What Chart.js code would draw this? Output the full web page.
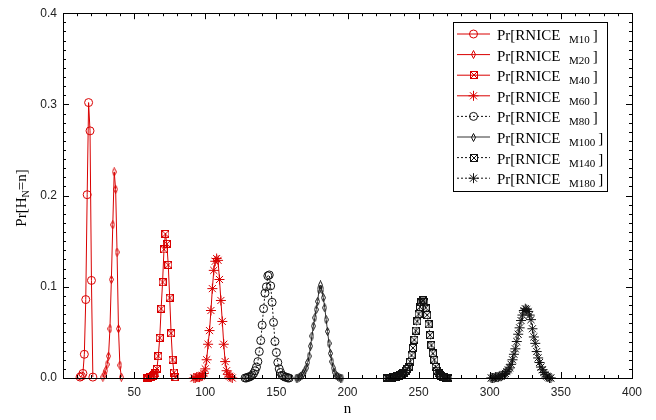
<!DOCTYPE html>
<html lang="en">
<head>
  <meta charset="UTF-8" />
  <title>Pr[H_N=n]</title>
  <script src="https://cdn.jsdelivr.net/npm/chart.js"></script>
  <style>
    html, body { margin: 0; padding: 0; background: #fff; }
    #wrap { width: 656px; height: 420px; }
  </style>
</head>
<body>
  <div id="wrap"><canvas id="chart"></canvas></div>

  <script>
    // series names (subscripts in the legend)
    const seriesNames = ['M10', 'M20', 'M40', 'M60', 'M80', 'M100', 'M140', 'M180'];
    // first n of each series, then one probability per consecutive n
    const startN = [12, 28, 59, 92, 128, 164, 228, 301];

    const probM10 = [0.001, 0.002, 0.005, 0.026, 0.086, 0.201, 0.302, 0.271, 0.107, 0.001];
    const probM20 = [0.001, 0.004, 0.008, 0.015, 0.024, 0.054, 0.108, 0.168, 0.226, 0.207, 0.138, 0.054, 0.014, 0.001];
    const probM40 = [0.000, 0.000, 0.001, 0.001, 0.002, 0.003, 0.005, 0.010, 0.024, 0.044, 0.076, 0.105, 0.141,
                     0.158, 0.147, 0.124, 0.088, 0.049, 0.020, 0.006, 0.001];
    const probM60 = [0.000, 0.000, 0.001, 0.001, 0.001, 0.002, 0.003, 0.005, 0.010, 0.020, 0.037, 0.052, 0.074,
                     0.098, 0.118, 0.128, 0.131, 0.129, 0.108, 0.085, 0.062, 0.037, 0.018, 0.008, 0.004, 0.002,
                     0.001, 0.000];
    const probM80 = [0.000, 0.000, 0.001, 0.001, 0.002, 0.003, 0.005, 0.008, 0.012, 0.018, 0.029, 0.041, 0.058,
                     0.076, 0.093, 0.100, 0.112, 0.113, 0.101, 0.083, 0.061, 0.040, 0.028, 0.017, 0.010, 0.006,
                     0.003, 0.002, 0.001, 0.001, 0.000, 0.000];
    const probM100 = [0.000, 0.000, 0.001, 0.002, 0.003, 0.005, 0.008, 0.011, 0.017, 0.024, 0.035, 0.046, 0.057,
                      0.066, 0.075, 0.084, 0.097, 0.102, 0.097, 0.088, 0.077, 0.064, 0.051, 0.038, 0.027, 0.018,
                      0.011, 0.006, 0.003, 0.002, 0.001, 0.000, 0.000];
    const probM140 = [0.000, 0.000, 0.000, 0.000, 0.001, 0.001, 0.001, 0.002, 0.002, 0.003, 0.004, 0.005, 0.006,
                      0.008, 0.010, 0.012, 0.018, 0.025, 0.033, 0.042, 0.052, 0.062, 0.070, 0.078, 0.083, 0.085,
                      0.083, 0.077, 0.069, 0.059, 0.047, 0.036, 0.027, 0.020, 0.012, 0.008, 0.005, 0.003, 0.002,
                      0.001, 0.001, 0.000, 0.000, 0.000];
    const probM180 = [0.000, 0.000, 0.000, 0.001, 0.001, 0.001, 0.002, 0.002, 0.003, 0.004, 0.005, 0.007, 0.009,
                      0.011, 0.015, 0.020, 0.026, 0.032, 0.040, 0.048, 0.055, 0.063, 0.069, 0.074, 0.076, 0.075,
                      0.073, 0.069, 0.064, 0.054, 0.045, 0.038, 0.029, 0.022, 0.017, 0.012, 0.009, 0.006, 0.004,
                      0.002, 0.001, 0.000, 0.000];

    const allProbs = [probM10, probM20, probM40, probM60, probM80, probM100, probM140, probM180];

    const xTicks = [0, 50, 100, 150, 200, 250, 300, 350, 400];
    const yTicks = [0.0, 0.1, 0.2, 0.3, 0.4];

    const RED = '#d90000';
    const BLACK = '#111';

    // little canvases for markers chart.js doesn't have
    function diamondMarker(color) {
      const c = document.createElement('canvas');
      c.width = 5; c.height = 9;
      const g = c.getContext('2d');
      g.strokeStyle = color; g.lineWidth = 1;
      g.beginPath();
      g.moveTo(2.5, 0.5); g.lineTo(4.5, 4.5); g.lineTo(2.5, 8.5); g.lineTo(0.5, 4.5); g.closePath();
      g.stroke();
      return c;
    }
    function boxXMarker(color) {
      const c = document.createElement('canvas');
      c.width = 8; c.height = 8;
      const g = c.getContext('2d');
      g.strokeStyle = color; g.lineWidth = 1;
      g.strokeRect(0.5, 0.5, 7, 7);
      g.beginPath();
      g.moveTo(0.5, 0.5); g.lineTo(7.5, 7.5);
      g.moveTo(7.5, 0.5); g.lineTo(0.5, 7.5);
      g.stroke();
      return c;
    }

    const colors = [RED, RED, RED, RED, BLACK, '#333', BLACK, BLACK];
    const dashes = [[], [], [], [], [2, 2], [], [2, 2], [2, 2]];
    const markers = [
      'circle', diamondMarker(RED), boxXMarker(RED), 'star',
      'circle', diamondMarker(BLACK), boxXMarker(BLACK), 'star'
    ];
    const radii = [4, 4, 4, 5, 4, 4, 4, 5];

    const datasets = seriesNames.map((name, i) => ({
      label: name,
      data: allProbs[i].map((p, k) => ({ x: startN[i] + k, y: p })),
      borderColor: colors[i],
      backgroundColor: 'rgba(0,0,0,0)',
      borderWidth: 1,
      borderDash: dashes[i],
      pointStyle: markers[i],
      pointRadius: radii[i],
      pointBorderWidth: 1,
      pointBorderColor: colors[i],
      pointBackgroundColor: 'rgba(0,0,0,0)',
      tension: 0,
      clip: 6
    }));

    // frame, inward ticks, legend and axis titles
    const decorations = {
      id: 'decorations',
      afterDraw(chart) {
        const ctx = chart.ctx;
        const a = chart.chartArea;
        const xs = chart.scales.x, ys = chart.scales.y;
        ctx.save();
        ctx.strokeStyle = '#000';
        ctx.lineWidth = 1;
        ctx.strokeRect(Math.round(a.left) + 0.5, Math.round(a.top) + 0.5,
                       Math.round(a.right - a.left), Math.round(a.bottom - a.top));
        ctx.beginPath();
        for (let v = 0; v <= 400; v += 10) {
          const px = Math.round(xs.getPixelForValue(v)) + 0.5;
          const len = v % 50 === 0 ? 6 : 3;
          ctx.moveTo(px, a.bottom); ctx.lineTo(px, a.bottom - len);
          ctx.moveTo(px, a.top); ctx.lineTo(px, a.top + len);
        }
        for (let k = 0; k <= 40; k++) {
          const py = Math.round(ys.getPixelForValue(k / 100)) + 0.5;
          const len = k % 10 === 0 ? 6 : 3;
          ctx.moveTo(a.left, py); ctx.lineTo(a.left + len, py);
          ctx.moveTo(a.right, py); ctx.lineTo(a.right - len, py);
        }
        ctx.stroke();

        // legend
        const bx = 453, by = 22, bw = 154, bh = 169;
        ctx.fillStyle = '#fff';
        ctx.fillRect(bx, by, bw, bh);
        ctx.strokeRect(bx + 0.5, by + 0.5, bw, bh);
        chart.data.datasets.forEach((ds, i) => {
          const ry = 34 + i * 20.6;
          ctx.strokeStyle = ds.borderColor;
          ctx.setLineDash(ds.borderDash);
          ctx.beginPath();
          ctx.moveTo(457, ry); ctx.lineTo(490, ry);
          ctx.stroke();
          ctx.setLineDash([]);
          if (typeof ds.pointStyle === 'string') {
            ctx.fillStyle = 'rgba(0,0,0,0)';
            Chart.helpers.drawPoint(ctx, { pointStyle: ds.pointStyle, radius: ds.pointRadius, rotation: 0, borderWidth: 1 }, 473.5, ry);
          } else {
            const im = ds.pointStyle;
            ctx.drawImage(im, Math.round(473.5 - im.width / 2), Math.round(ry - im.height / 2));
          }
          ctx.fillStyle = '#000';
          ctx.textAlign = 'left';
          ctx.textBaseline = 'alphabetic';
          ctx.font = '15px "Liberation Serif"';
          ctx.fillText('Pr[RNICE', 497, ry + 6);
          ctx.font = '11px "Liberation Serif"';
          ctx.fillText(ds.label, 569, ry + 9);
          const sw = ctx.measureText(ds.label).width;
          ctx.font = '15px "Liberation Serif"';
          ctx.fillText(']', 569 + sw + 3, ry + 6);
        });

        // axis titles
        ctx.fillStyle = '#000';
        ctx.font = '15px "Liberation Serif"';
        ctx.textAlign = 'center';
        ctx.fillText('n', (a.left + a.right) / 2, 413);

        ctx.translate(26, 198);
        ctx.rotate(-Math.PI / 2);
        ctx.textAlign = 'left';
        const p1 = 'Pr[H', p2 = 'N', p3 = '=n]';
        ctx.font = '15px "Liberation Serif"';
        const w1 = ctx.measureText(p1).width, w3 = ctx.measureText(p3).width;
        ctx.font = '10px "Liberation Serif"';
        const w2 = ctx.measureText(p2).width;
        let x0 = -(w1 + w2 + w3) / 2;
        ctx.font = '15px "Liberation Serif"';
        ctx.fillText(p1, x0, 0);
        ctx.font = '10px "Liberation Serif"';
        ctx.fillText(p2, x0 + w1, 3);
        ctx.font = '15px "Liberation Serif"';
        ctx.fillText(p3, x0 + w1 + w2, 0);
        ctx.restore();
      }
    };

    new Chart(document.getElementById('chart').getContext('2d'), {
      type: 'line',
      data: { datasets },
      options: {
        responsive: true,
        maintainAspectRatio: false,
        animation: false,
        layout: { padding: { left: 0, right: 24, top: 8, bottom: 0 } },
        plugins: { legend: { display: false }, tooltip: { enabled: false } },
        scales: {
          x: {
            type: 'linear',
            min: 0, max: 400,
            grid: { display: false, drawTicks: false },
            border: { display: false },
            afterBuildTicks: s => { s.ticks = xTicks.map(v => ({ value: v })); },
            afterFit: s => { s.height = 42; },
            ticks: {
              padding: 7,
              color: '#222',
              font: { family: '"Liberation Sans"', size: 12 },
              callback: v => (v === 0 ? '' : String(v))
            }
          },
          y: {
            type: 'linear',
            min: 0, max: 0.4,
            grid: { display: false, drawTicks: false },
            border: { display: false },
            afterBuildTicks: s => { s.ticks = yTicks.map(v => ({ value: v })); },
            afterFit: s => { s.width = 63; },
            ticks: {
              padding: 6,
              color: '#222',
              font: { family: '"Liberation Sans"', size: 12 },
              callback: v => Number(v).toFixed(1)
            }
          }
        }
      },
      plugins: [decorations]
    });
  </script>
</body>
</html>
